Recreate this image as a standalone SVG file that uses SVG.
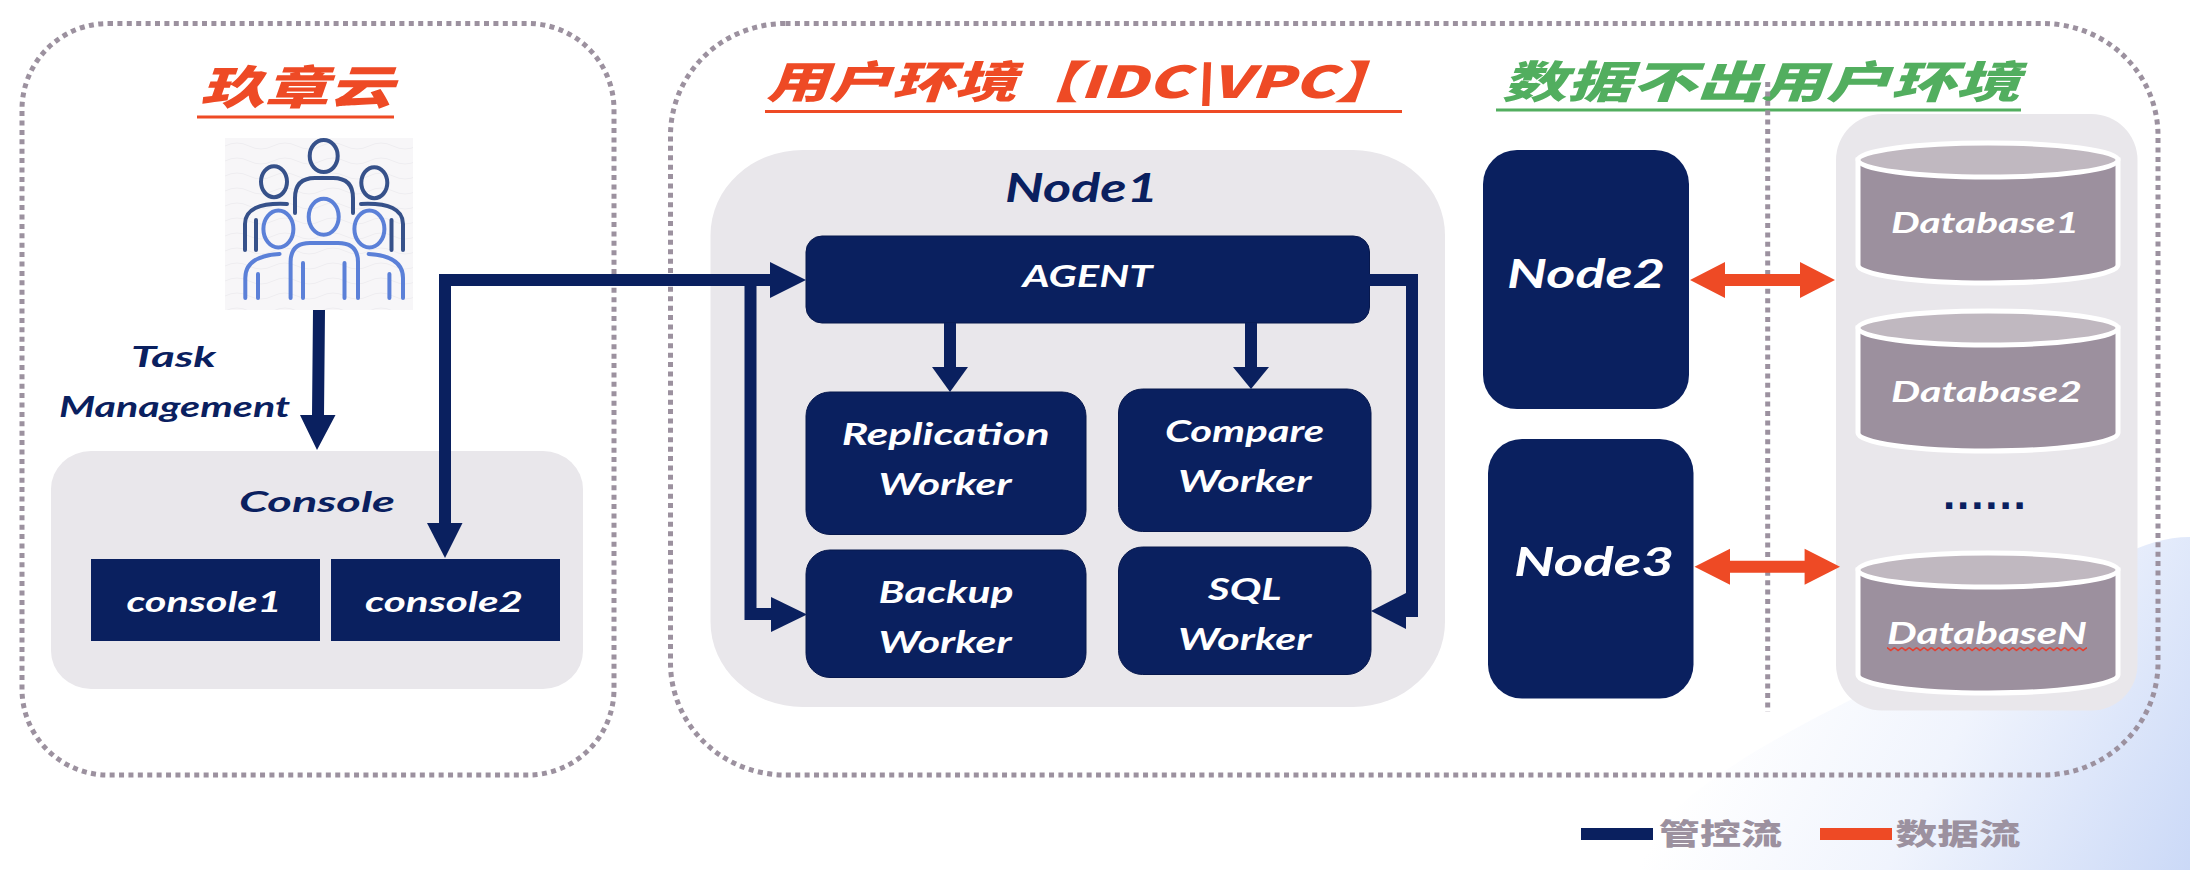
<svg xmlns="http://www.w3.org/2000/svg" width="2190" height="870" viewBox="0 0 2190 870">
<style>
.lat{font-family:"Lato","Open Sans","Liberation Sans",sans-serif;font-style:italic;font-weight:700}
.cjk{font-family:"Noto Sans CJK SC","Noto Sans",sans-serif;font-weight:900;font-style:italic}
.w{fill:#fff}.n{fill:#0a205f}.o{fill:#ee4a25}.g{fill:#52ae5f}
.dash{fill:none;stroke:#9c919f;stroke-width:5;stroke-dasharray:5 4.4}
.panel{fill:#e9e7eb}
.box{fill:#0a205f;stroke:#07184d;stroke-width:1}
.conn{fill:none;stroke:#0a205f;stroke-width:12}
.dk{fill:none;stroke:#36518a;stroke-width:4;stroke-linecap:round}
.bl{fill:none;stroke:#5b80d8;stroke-width:4;stroke-linecap:round}
.lid{fill:#c0b8c0;stroke:#fff;stroke-width:5}
.body{fill:#9c909e;stroke:#fff;stroke-width:5}
</style>
<defs>
<linearGradient id="bg" x1="1760" y1="640" x2="2190" y2="870" gradientUnits="userSpaceOnUse">
<stop offset="0" stop-color="#fff"/><stop offset="0.45" stop-color="#f0f4fd"/><stop offset="1" stop-color="#cbd9f7"/>
</linearGradient>
<pattern id="wave" x="1887" y="646" width="7.4" height="6" patternUnits="userSpaceOnUse">
<path d="M0 1.5L3.7 4.5L7.4 1.5" fill="none" stroke="#e53b2b" stroke-width="1.6"/>
</pattern>
<pattern id="ripple" x="225" y="138" width="48" height="15" patternUnits="userSpaceOnUse">
<path d="M0 8Q12 2 24 8T48 8" fill="none" stroke="#eeedf0" stroke-width="1"/>
</pattern>
<g id="cyl">
<path class="body" d="M1858 160V265A130 18 0 0 0 2118 265V160Z"/>
<ellipse class="lid" cx="1988" cy="160" rx="130" ry="17"/>
</g>
</defs>
<rect width="2190" height="870" fill="#fff"/>
<path id="backdrop" fill="url(#bg)" d="M1624 870C1680 770 1850 700 2020 620C2090 570 2140 537 2190 537V870Z"/>

<g id="region-left">
<rect class="dash" x="22" y="23.5" width="592" height="751.5" rx="86" ry="86"/>
<text class="cjk o" x="200" y="104" font-size="46" textLength="193" lengthAdjust="spacingAndGlyphs">玖章云</text>
<rect class="o" x="197" y="115.5" width="197" height="3"/>
</g>
<g id="users">
<rect x="225" y="138" width="188" height="172" fill="#f7f6f8"/>
<rect x="225" y="138" width="188" height="172" fill="url(#ripple)"/>
<ellipse class="dk" cx="323.7" cy="156" rx="14" ry="16"/>
<ellipse class="dk" cx="274" cy="181.7" rx="13" ry="15.5"/>
<ellipse class="dk" cx="374.3" cy="182.7" rx="13" ry="15.5"/>
<path class="dk" d="M295 213V198Q295 178 315 178H333Q353 178 353 198V213"/>
<path class="dk" d="M287 204Q245 202 245 224V250M256 220V250M361 204Q403 202 403 224V250M391.5 220V250"/>
<ellipse class="bl" cx="323.7" cy="216.7" rx="15" ry="18"/>
<ellipse class="bl" cx="278.4" cy="229" rx="15" ry="18.5"/>
<ellipse class="bl" cx="369.4" cy="229" rx="15" ry="18.5"/>
<path class="bl" d="M290.6 298V262Q290.6 243 310 243H338Q358 243 358 262V298M303 263V298M344.5 263V298"/>
<path class="bl" d="M279.6 254Q245.3 256 245.3 278V298M258 274V298M368.6 254Q403 256 403 278V298M389.4 274V298"/>
</g>
<g id="task-label">
<text class="lat n" x="131" y="367" font-size="28" textLength="85" lengthAdjust="spacingAndGlyphs">Task</text>
<text class="lat n" x="59" y="417" font-size="28" textLength="231" lengthAdjust="spacingAndGlyphs">Management</text>
</g>
<g id="console">
<rect class="panel" x="51" y="451" width="532" height="238" rx="40" ry="38"/>
<text class="lat n" x="239" y="512" font-size="29" textLength="156" lengthAdjust="spacingAndGlyphs">Console</text>
</g>
<g id="console1">
<rect class="n" x="91" y="559" width="229" height="82"/>
<text class="lat w" x="126.5" y="612" font-size="29" textLength="155" lengthAdjust="spacingAndGlyphs">console1</text>
</g>
<g id="console2">
<rect class="n" x="331" y="559" width="229" height="82"/>
<text class="lat w" x="365" y="612" font-size="29" textLength="158" lengthAdjust="spacingAndGlyphs">console2</text>
</g>

<g id="region-right">
<rect class="dash" x="670.5" y="23.5" width="1487.5" height="751.5" rx="115" ry="112"/>
<text class="cjk o" x="766" y="98" font-size="44" textLength="632" lengthAdjust="spacingAndGlyphs">用户环境【IDC\VPC】</text>
<rect class="o" x="765" y="110" width="637" height="3"/>
<text class="cjk g" x="1502" y="98" font-size="44" textLength="518" lengthAdjust="spacingAndGlyphs">数据不出用户环境</text>
<rect class="g" x="1496" y="108.5" width="525" height="3"/>
</g>
<g id="node1">
<rect class="panel" x="710.5" y="150" width="734.5" height="557" rx="92" ry="85"/>
<text class="lat n" x="1005" y="202" font-size="40" textLength="153" lengthAdjust="spacingAndGlyphs">Node1</text>
</g>
<g id="agent">
<rect class="box" x="806" y="236" width="563.5" height="87" rx="16"/>
<text class="lat w" x="1022.5" y="287" font-size="30" textLength="130" lengthAdjust="spacingAndGlyphs">AGENT</text>
</g>
<g id="replication">
<rect class="box" x="806" y="392" width="280" height="142.5" rx="24"/>
<text class="lat w" x="841.7" y="445" font-size="30" textLength="208" lengthAdjust="spacingAndGlyphs">Replication</text>
<text class="lat w" x="878.6" y="495" font-size="30" textLength="133" lengthAdjust="spacingAndGlyphs">Worker</text>
</g>
<g id="compare">
<rect class="box" x="1118.5" y="389" width="252.5" height="142.5" rx="24"/>
<text class="lat w" x="1165" y="442" font-size="30" textLength="159" lengthAdjust="spacingAndGlyphs">Compare</text>
<text class="lat w" x="1178" y="491.7" font-size="30" textLength="133.5" lengthAdjust="spacingAndGlyphs">Worker</text>
</g>
<g id="backup">
<rect class="box" x="806" y="550" width="280" height="127.5" rx="24"/>
<text class="lat w" x="878.6" y="602.7" font-size="30" textLength="135" lengthAdjust="spacingAndGlyphs">Backup</text>
<text class="lat w" x="878.6" y="653" font-size="30" textLength="133" lengthAdjust="spacingAndGlyphs">Worker</text>
</g>
<g id="sql">
<rect class="box" x="1118.5" y="547" width="252.5" height="127.5" rx="24"/>
<text class="lat w" x="1208" y="600" font-size="30" textLength="73.5" lengthAdjust="spacingAndGlyphs">SQL</text>
<text class="lat w" x="1178" y="650" font-size="30" textLength="133.5" lengthAdjust="spacingAndGlyphs">Worker</text>
</g>
<g id="node2">
<rect class="n" x="1483" y="150" width="206" height="259" rx="34"/>
<text class="lat w" x="1507" y="288" font-size="41" textLength="158" lengthAdjust="spacingAndGlyphs">Node2</text>
</g>
<g id="node3">
<rect class="n" x="1488" y="439" width="205.5" height="259.5" rx="34"/>
<text class="lat w" x="1514" y="576" font-size="41" textLength="160" lengthAdjust="spacingAndGlyphs">Node3</text>
</g>
<g id="databases">
<rect class="panel" x="1836" y="114" width="301.5" height="596.5" rx="46"/>
<use href="#cyl"/>
<use href="#cyl" y="168"/>
<use href="#cyl" y="410"/>
<text class="lat w" x="1891" y="233" font-size="29" textLength="188" lengthAdjust="spacingAndGlyphs">Database1</text>
<text class="lat w" x="1891" y="402" font-size="29" textLength="191" lengthAdjust="spacingAndGlyphs">Database2</text>
<text class="n" x="1943" y="509" font-size="44" font-weight="700" style="font-family:'Liberation Sans',sans-serif;letter-spacing:1.9px">......</text>
<text class="lat w" x="1887" y="644" font-size="31" textLength="200" lengthAdjust="spacingAndGlyphs">DatabaseN</text>
<rect x="1887" y="646" width="200" height="6" fill="url(#wave)"/>
</g>
<path class="dash" d="M1767.7 82V712" id="divider"/>

<g id="connectors">
<polygon class="n" points="313,310 325,310 324,415 335.5,415 317,450 300,415 312,415"/>
<path class="conn" d="M445 525V280H790"/>
<polygon class="n" points="427,523 462.5,523 445,558"/>
<polygon class="n" points="770,262 806,280 770,298"/>
<path class="conn" d="M750.5 280V614H775"/>
<polygon class="n" points="771,597 807,614.5 771,632"/>
<path class="conn" d="M1369 280H1412V611H1390"/>
<polygon class="n" points="1406,593 1371,611 1406,629"/>
<path class="conn" d="M950 323V370"/>
<polygon class="n" points="932,367 968,367 950,392"/>
<path class="conn" d="M1251 323V370"/>
<polygon class="n" points="1233,367 1269,367 1251,389"/>
<polygon class="o" points="1690,280 1725,262 1725,274 1800,274 1800,262 1835,280 1800,298 1800,286 1725,286 1725,298"/>
<polygon class="o" points="1694.5,566.7 1730,548.7 1730,560.7 1804.6,560.7 1804.6,548.7 1840,566.7 1804.6,584.7 1804.6,572.7 1730,572.7 1730,584.7"/>
</g>
<g id="legend">
<rect class="n" x="1581" y="828" width="72" height="12"/>
<text class="cjk" fill="#9c919f" x="1659" y="845" font-size="29" textLength="123" lengthAdjust="spacingAndGlyphs" style="font-style:normal">管控流</text>
<rect class="o" x="1820" y="828" width="72" height="12"/>
<text class="cjk" fill="#9c919f" x="1895.5" y="845" font-size="29" textLength="125" lengthAdjust="spacingAndGlyphs" style="font-style:normal">数据流</text>
</g>
</svg>
